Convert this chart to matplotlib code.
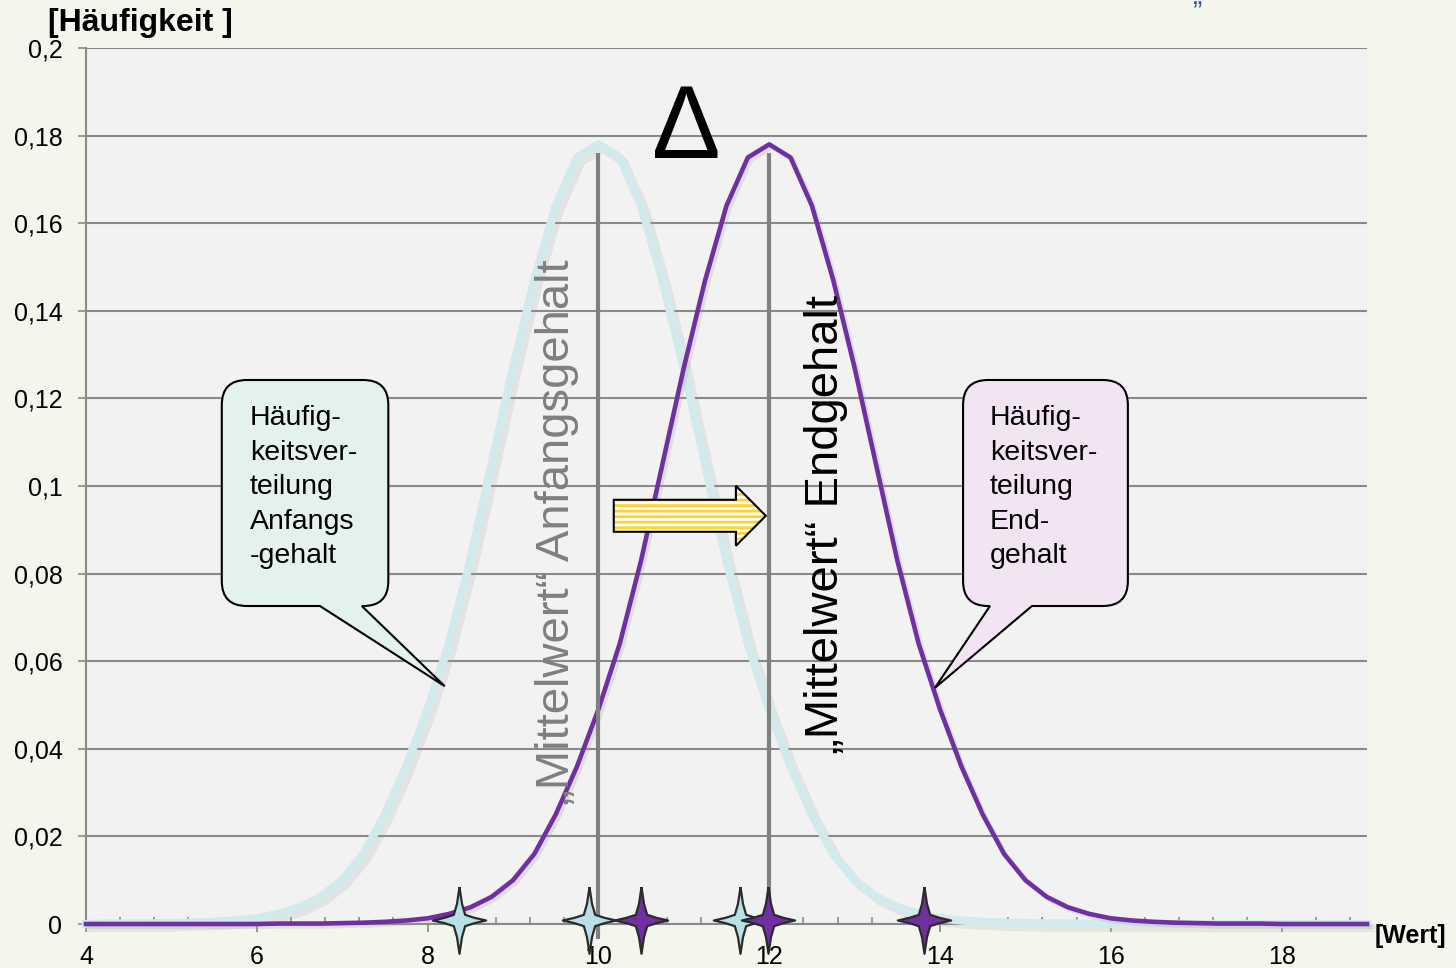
import numpy as np
import matplotlib.pyplot as plt
import matplotlib.patheffects as pe
from matplotlib.path import Path
from matplotlib.patches import PathPatch, Polygon
from matplotlib.transforms import IdentityTransform

plt.rcParams['font.family'] = ['Liberation Sans', 'DejaVu Sans']
plt.rcParams['hatch.linewidth'] = 2.0

# --- Daten: Häufigkeit je Wert (0,25er Raster von 4 bis 19) ---
werte = np.linspace(4, 19, 61)
anfang = [0, .0001, .0001, .0001, .0002, .0003, .0005, .0008,
          .0013, .0023, .0038, .0062, .010, .016, .025, .036,
          .049, .064, .083, .105, .127, .147, .164, .175,
          .178, .175, .164, .147, .127, .105, .083, .064,
          .049, .036, .025, .016, .010, .0062, .0038, .0023,
          .0013, .0008, .0005, .0003, .0002, .0001, .0001, .0001,
          0, 0, 0, 0, 0, 0, 0, 0, 0, 0, 0, 0, 0]
ende = [0, 0, 0, 0, 0, 0, 0, 0,
        0, .0001, .0001, .0001, .0002, .0003, .0005, .0008,
        .0013, .0023, .0038, .0062, .010, .016, .025, .036,
        .049, .064, .083, .105, .127, .147, .164, .175,
        .178, .175, .164, .147, .127, .105, .083, .064,
        .049, .036, .025, .016, .010, .0062, .0038, .0023,
        .0013, .0008, .0005, .0003, .0002, .0001, .0001, .0001,
        0, 0, 0, 0, 0]

mittelwerte = [10, 12]
mittel_hoehe = 0.176
sterne_anfang = [8.37, 9.89, 11.66]
sterne_ende = [10.5, 11.99, 13.81]

y_ticks = [0, .02, .04, .06, .08, .1, .12, .14, .16, .18, .2]
y_labels = ['0', '0,02', '0,04', '0,06', '0,08', '0,1', '0,12', '0,14', '0,16', '0,18', '0,2']
x_ticks = [4, 6, 8, 10, 12, 14, 16, 18]
x_labels = ['4', '6', '8', '10', '12', '14', '16', '18']

c_anfang = '#d3eaed'
c_ende = '#7030a0'
grau = '#8a8a8a'

fig = plt.figure(figsize=(14.56, 9.68), dpi=100, facecolor='#f4f6ed')
ax = fig.add_axes([86/1456, 1-924/968, (1367-86)/1456, (924-48)/968])
ax.set_facecolor('#f2f2f2')
ax.set_xlim(4, 19)
ax.set_ylim(0, 0.2)

ax.set_yticks(y_ticks)
ax.set_yticklabels(y_labels)
ax.set_xticks(x_ticks)
ax.set_xticklabels(x_labels)
ax.set_xticks(np.arange(4, 19.01, 0.4), minor=True)
ax.tick_params(axis='x', which='minor', direction='in', length=5, width=1.2, color=grau)
ax.tick_params(axis='x', which='major', direction='out', length=6, width=1.2, color=grau,
               labelsize=18, pad=9)
ax.tick_params(axis='y', direction='out', length=6, width=1.2, color=grau, labelsize=18, pad=11)
ax.grid(axis='y', color=grau, lw=1.5)
ax.set_axisbelow(True)
for s in ['top', 'right']:
    ax.spines[s].set_visible(False)
for s in ['left', 'bottom']:
    ax.spines[s].set_color(grau)
    ax.spines[s].set_linewidth(1.5)

# Kurven
ax.plot(werte, anfang, color=c_anfang, lw=6, zorder=3, clip_on=False,
        path_effects=[pe.SimpleLineShadow(offset=(3, -3), shadow_color='#a0a0a0', alpha=0.18),
                      pe.Normal()])
ax.plot(werte, ende, color=c_ende, lw=3.3, zorder=3.5, clip_on=False,
        path_effects=[pe.SimpleLineShadow(offset=(2, -2), shadow_color='#a0a0a0', alpha=0.25),
                      pe.Normal()])

# Mittelwert-Linien
ax.vlines(mittelwerte, -0.0035, mittel_hoehe, color='#808080', lw=3, zorder=4, clip_on=False)

# Sterne auf der x-Achse (vierzackig)
stern = [(0, 1), (0.075, 0.5), (0.17, 0.17), (0.45, 0.08), (0.8, 0),
         (0.45, -0.08), (0.17, -0.17), (0.075, -0.5), (0, -1),
         (-0.075, -0.5), (-0.17, -0.17), (-0.45, -0.08), (-0.8, 0),
         (-0.45, 0.08), (-0.17, 0.17), (-0.075, 0.5), (0, 1)]
ax.plot(sterne_anfang, [0.0008]*len(sterne_anfang), ls='none', marker=stern, ms=48,
        mfc='#b7e1e6', mec='#2b2b2b', mew=1.6, zorder=8, clip_on=False)
ax.plot(sterne_ende, [0.0008]*len(sterne_ende), ls='none', marker=stern, ms=48,
        mfc=c_ende, mec='#2b2b2b', mew=1.6, zorder=8, clip_on=False)

# Beschriftungen
ax.text(9.52, 0.0895, '„Mittelwert“ Anfangsgehalt', rotation=90, ha='center', va='center',
        fontsize=34, color='#7f7f7f', zorder=5)
ax.text(12.67, 0.0911, '„Mittelwert“ Endgehalt', rotation=90, ha='center', va='center',
        fontsize=34, color='black', zorder=5)
ax.text(11.03, 0.1749, 'Δ', ha='center', va='baseline', fontsize=74, color='black', zorder=5)

# Pfeil (gelb gestreift)
p_x0, p_x1, p_kopf, p_y = 10.18, 11.96, 11.61, 0.0932
p_b, p_k = 0.00365, 0.00685
pfeil = [(p_x0, p_y - p_b), (p_kopf, p_y - p_b), (p_kopf, p_y - p_k), (p_x1, p_y),
         (p_kopf, p_y + p_k), (p_kopf, p_y + p_b), (p_x0, p_y + p_b)]
ax.add_patch(Polygon(pfeil, closed=True, fc='#ffd42a', ec='none', zorder=6))
ax.add_patch(Polygon(pfeil, closed=True, fc='none', ec='white', lw=0, hatch='---', zorder=6.1))
ax.add_patch(Polygon(pfeil, closed=True, fc='none', ec='black', lw=1.5, zorder=6.2))


def sprechblase(box, basis, spitze, farbe, text, tx, ty):
    T = ax.transData
    x0, y0 = T.transform((box[0], box[3]))
    x1, y1 = T.transform((box[1], box[2]))
    sx, sy = T.transform(spitze)
    b0 = T.transform((basis[0], box[3]))[0]
    b1 = T.transform((basis[1], box[3]))[0]
    r = 25
    M, L, C, Z = Path.MOVETO, Path.LINETO, Path.CURVE3, Path.CLOSEPOLY
    verts = [(x0 + r, y0), (b0, y0), (sx, sy), (b1, y0), (x1 - r, y0),
             (x1, y0), (x1, y0 + r), (x1, y1 - r), (x1, y1), (x1 - r, y1),
             (x0 + r, y1), (x0, y1), (x0, y1 - r), (x0, y0 + r), (x0, y0), (x0 + r, y0),
             (x0 + r, y0)]
    codes = [M, L, L, L, L, C, C, L, C, C, L, C, C, L, C, C, Z]
    ax.add_patch(PathPatch(Path(verts, codes), transform=IdentityTransform(), fc=farbe,
                           ec='black', lw=1.5, zorder=7, clip_on=False))
    ax.text(tx, ty, text, ha='left', va='top', fontsize=20.5, linespacing=1.42, zorder=7.5)


sprechblase((5.59, 7.54, 0.1242, 0.0726), (6.74, 7.23), (8.20, 0.0543), '#e3f2eb',
            'Häufig-\nkeitsver-\nteilung\nAnfangs\n-gehalt', 5.92, 0.1184)
sprechblase((14.27, 16.20, 0.1242, 0.0726), (14.585, 15.077), (13.94, 0.0539), '#f3e4f3',
            'Häufig-\nkeitsver-\nteilung\nEnd-\ngehalt', 14.585, 0.1184)

fig.text(48/1456, 1 - 23/968, '[Häufigkeit ]', fontsize=23, fontweight='bold', va='center')
fig.text(1375/1456, 1 - 936/968, '[Wert]', fontsize=18, fontweight='bold', va='center')
fig.text(1193/1456, 1 - 4/968, '„', fontsize=20, color='#2e4ea8', va='baseline')

fig.savefig('out.png', dpi=100, facecolor=fig.get_facecolor())
